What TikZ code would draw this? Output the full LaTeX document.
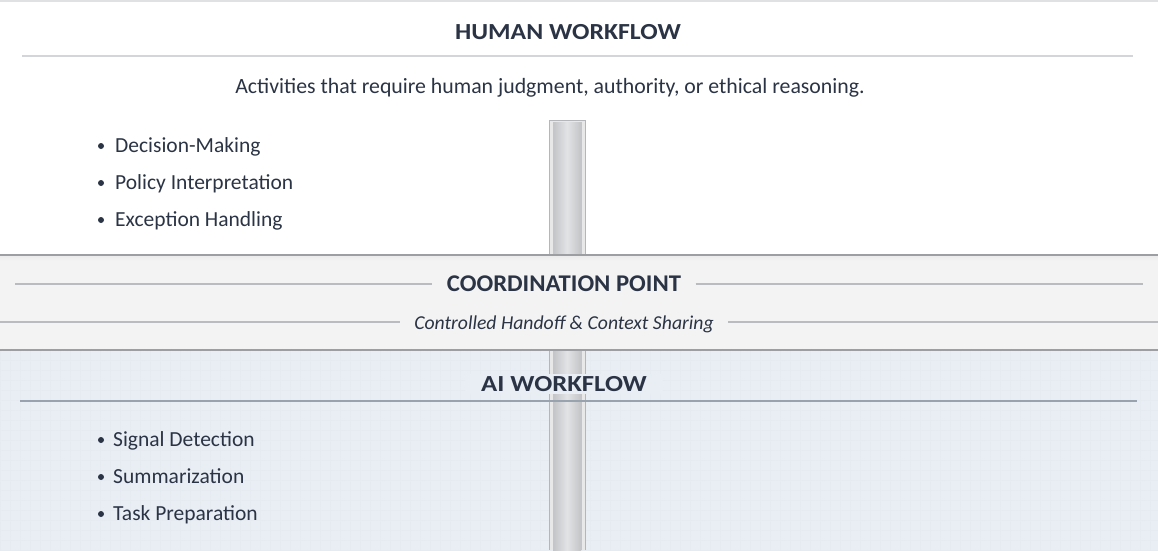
\documentclass[tikz,border=0pt]{standalone}
\usepackage{fontspec}
\setmainfont{Carlito}
\usetikzlibrary{calc}
\definecolor{ink}{HTML}{2B3445}
\definecolor{coordbg}{HTML}{F3F3F3}
\definecolor{aibg}{HTML}{E9EEF4}
\definecolor{aigrid}{HTML}{E6EBF1}
\definecolor{rule}{HTML}{D2D5DA}
\definecolor{toprule}{HTML}{E0E1E3}
\definecolor{coordrule}{HTML}{B9BBBE}
\definecolor{edge}{HTML}{9C9EA2}
\definecolor{airule}{HTML}{98A3AF}
\definecolor{barouter}{HTML}{E8E8E8}
\definecolor{barline}{HTML}{B4B6B9}
\definecolor{barlo}{HTML}{C2C4C7}
\definecolor{barhi}{HTML}{E2E3E5}
\tikzset{
  titletext/.style={font=\bfseries\fontsize{23}{26}\selectfont, text=ink, inner xsep=14pt, inner ysep=2pt},
  bodytext/.style={font=\fontsize{21.5}{24}\selectfont, text=ink, inner sep=0pt, anchor=base west},
  subtext/.style={font=\itshape\fontsize{19.7}{22}\selectfont, text=ink, inner xsep=14pt, inner ysep=2pt},
  bulletdot/.style={circle, fill=ink, inner sep=0pt, minimum size=6pt},
  bandedge/.style={draw=edge, line width=1.5pt},
}
\begin{document}
\begin{tikzpicture}[x=1pt,y=-1pt]
\useasboundingbox (0,0) rectangle (1158,550);
% bands
\fill[white] (0,0) rectangle (1158,255);
\fill[aibg] (0,350) rectangle (1158,550);
\draw[aigrid, line width=0.25pt, step=10pt] (0,350) grid (1158,550);
\draw[toprule, line width=2pt] (0,1) -- (1158,1);
% vertical connector bar
\fill[barouter] (549,120) rectangle (585,550);
\draw[barline, line width=0.8pt] (549,120) -- (549,550) (585,120) -- (585,550) (549,120) -- (585,120);
\shade[left color=barlo, right color=barlo, middle color=barhi] (553,122) rectangle (581,550);
\draw[barline!80, line width=0.6pt] (553,122) -- (553,550) (581,122) -- (581,550);
% coordination band
\fill[coordbg] (0,255) rectangle (1158,350);
\shade[top color=black!8, bottom color=coordbg] (0,255) rectangle (1158,261);
\draw[bandedge] (0,255) -- (1158,255);
\draw[bandedge] (0,350) -- (1158,350);

% human workflow
\node[titletext, xscale=1.12] (htitle) at (568,32) {HUMAN WORKFLOW};
\coordinate (hl) at (22,56);
\coordinate (hr) at (1133,56);
\draw[rule, line width=1.5pt] (hl) -- (hr);
\node[font=\fontsize{21.8}{24}\selectfont, text=ink, inner sep=0pt] (hsub) at (550,88) {Activities that require human judgment, authority, or ethical reasoning.};
\node[bulletdot] (hb1) at (101,146) {};
\node[bodytext] (ht1) at (115,152.5) {Decision-Making};
\node[bulletdot] (hb2) at (101,183) {};
\node[bodytext] (ht2) at (115,189.5) {Policy Interpretation};
\node[bulletdot] (hb3) at (101,220) {};
\node[bodytext] (ht3) at (115,226.5) {Exception Handling};

% coordination point
\node[titletext, font=\bfseries\fontsize{24}{26}\selectfont, xscale=1.03] (ctitle) at (564,284) {COORDINATION POINT};
\coordinate (cl1) at (15,284);
\coordinate (cr1) at (1143,284);
\draw[coordrule, line width=1.3pt] (cl1) -- (ctitle.west) (ctitle.east) -- (cr1);
\node[subtext] (csub) at (564,324) {Controlled Handoff \& Context Sharing};
\coordinate (cl2) at (0,322);
\coordinate (cr2) at (1158,322);
\draw[coordrule, line width=1.3pt] (cl2) -- (csub.west |- cl2) (csub.east |- cr2) -- (cr2);

% ai workflow
\node[titletext, fill=aibg, xscale=1.16] (atitle) at (564,384) {AI WORKFLOW};
\coordinate (al) at (20,401);
\coordinate (ar) at (1137,401);
\draw[airule, line width=1.5pt] (al) -- (ar);
\node[bulletdot] (ab1) at (101,440) {};
\node[bodytext] (at1) at (113,446.5) {Signal Detection};
\node[bulletdot] (ab2) at (101,477) {};
\node[bodytext] (at2) at (113,483.5) {Summarization};
\node[bulletdot] (ab3) at (101,514) {};
\node[bodytext] (at3) at (113,520.5) {Task Preparation};
\end{tikzpicture}
\end{document}
